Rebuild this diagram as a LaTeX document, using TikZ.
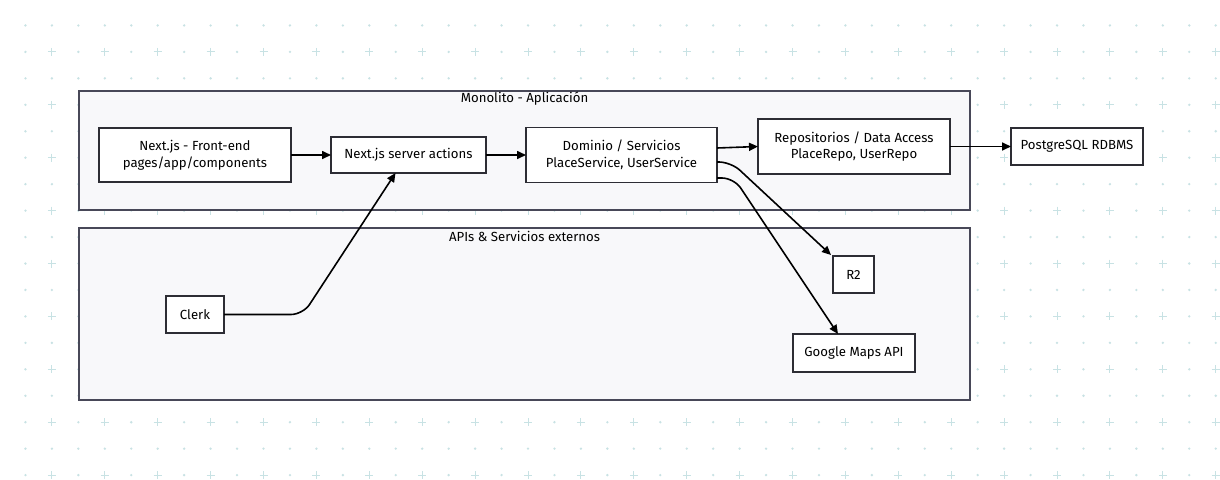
\documentclass[tikz,border=0pt]{standalone}
\usepackage{fontspec}
\setmainfont{Fira Sans}
\usetikzlibrary{positioning,arrows.meta}
\definecolor{gridcol}{RGB}{200,226,228}
\definecolor{groupfill}{RGB}{248,248,250}
\definecolor{groupline}{RGB}{72,72,88}
\definecolor{boxline}{RGB}{45,45,52}
\tikzset{
  box/.style={rectangle, draw=boxline, fill=white, line width=1.3pt, align=center, inner sep=0pt, outer sep=0pt, font=\fontsize{13.2}{16.7}\selectfont},
  group/.style={rectangle, draw=groupline, fill=groupfill, line width=1.4pt, inner sep=0pt},
  grouptitle/.style={inner sep=0pt, font=\fontsize{13.2}{16.7}\selectfont},
  link/.style={->, line width=1.6pt, rounded corners=12pt}
}

\begin{document}
\begin{tikzpicture}[x=1pt, y=-1pt, >={Triangle[length=9pt,width=8pt]}]
                    \useasboundingbox[fill=white] (0,0) rectangle (1220,479);
                    % dotted grid in the background
                    \foreach \i in {1,...,46}{
                      \foreach \j in {1,...,18}{
                        \pgfmathsetmacro\gx{26.45*\i-1}
                        \pgfmathsetmacro\gy{26.45*\j-1}
                        \ifodd\i\relax
                          \fill[gridcol] (\gx,\gy) circle (1.3pt);
                        \else\ifodd\j\relax
                          \fill[gridcol] (\gx,\gy) circle (1.3pt);
                        \else
                          \draw[gridcol, line width=1pt] (\gx-4,\gy) -- (\gx+4,\gy) (\gx,\gy-4) -- (\gx,\gy+4);
                        \fi\fi
                      }
                    }
                    \node (g1) [group, minimum width=891pt, minimum height=119pt] at (524.5,150.5) {};
                    \node (t1) [grouptitle] at (524.5,99) {Monolito - Aplicación};
                    \node (g2) [group, minimum width=891pt, minimum height=172pt] at (524.5,314) {};
                    \node (t2) [grouptitle] at (524.5,236) {APIs \& Servicios externos};
                    \node (l1) [box, minimum width=192pt, minimum height=54pt] at (195,155) {
                    Next.js - Front-end\\pages/app/components};
                    \node (l2) [box, minimum width=155pt, minimum height=36pt, right=40pt of l1] {
                    Next.js server actions};
                    \node (l3) [box, minimum width=191pt, minimum height=55pt, right=40pt of l2] {
                    Dominio / Servicios\\PlaceService, UserService};
                    \node (l4) [box, minimum width=192pt, minimum height=55pt, right=41pt of l3, yshift=8.5pt] {
                    Repositorios / Data Access\\PlaceRepo, UserRepo};
                    \node (l5) [box, minimum width=132pt, minimum height=37pt, right=61pt of l4] {
                    PostgreSQL RDBMS};
                    \node (l6) [box, minimum width=41pt, minimum height=37pt] at (853.5,274.5) {
                    R2};
                    \node (l7) [box, minimum width=122pt, minimum height=38pt] at (854,353) {
                    Google Maps API};
                    \node (l8) [box, minimum width=58pt, minimum height=37pt] at (195,314.5) {
                    Clerk};
                \draw[link] (l1) -- (l2);
                \draw[link] (l2) -- (l3);
                \draw[link] ([yshift=7pt]l3.east) -- (l4.west);
                \draw[link] (l4) -- (l5);
                \draw[link] ([yshift=-7pt]l3.east) -- ++(14,0) -- ([xshift=-2pt,yshift=1pt]l6.north west);
                \draw[link] ([yshift=-23pt]l3.east) -- ++(17,0) -- ([xshift=-16pt]l7.north);
                \draw[link] (l8.east) -- ++(79,0) -- ([xshift=-13pt]l2.south);
            \end{tikzpicture}
\end{document}
